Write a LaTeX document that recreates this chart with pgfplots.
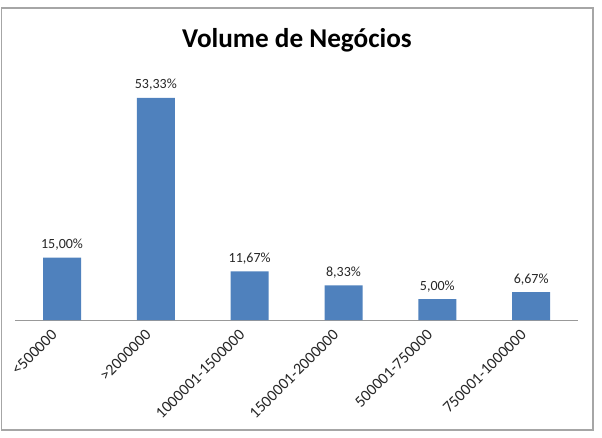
\documentclass[border=0pt]{standalone}
\usepackage{fontspec}
\setmainfont{Carlito}
\usepackage{pgfplots}
\pgfplotsset{compat=1.18}
\definecolor{barblue}{HTML}{4F81BD}
\begin{document}
\begin{tikzpicture}[x=0.75pt,y=0.75pt]
\begin{axis}[
  at={(46.5pt,87.75pt)}, anchor=origin,
  scale only axis, width=422.25pt, height=187.5pt,
  xmin=-0.5, xmax=5.5, ymin=0, ymax=60,
  axis x line=bottom, axis y line=none,
  x axis line style={-, gray!80},
  ytick=\empty,
  xtick=data,
  major tick length=0pt,
  xticklabels={<500000,>2000000,1000001-1500000,1500001-2000000,500001-750000,750001-1000000},
  x tick label style={xshift=-1.1pt, yshift=-4.5pt, rotate=45, anchor=east, font=\fontsize{12}{14}\selectfont, text=black!85, inner xsep=6.4pt, inner ysep=1pt},
  clip=false,
  nodes near coords={\pgfmathprintnumber[fixed,fixed zerofill,precision=2,use comma,assume math mode=true]{\pgfplotspointmeta}\%},
  every node near coord/.append style={font=\fontsize{10.5}{12}\selectfont, text=black!85, yshift=1.75pt},
]
\addplot[ybar, bar width=28.5pt, fill=barblue, draw=none] coordinates {
(0,15) (1,53.33) (2,11.67) (3,8.33) (4,5) (5,6.67)
};
\end{axis}
\draw[gray!70, line width=0.8pt] (1.5,7) rectangle (593,429);
\node[font=\bfseries\fontsize{20.4}{24}\selectfont, text=black] at (297,397) {Volume de Negócios};
\pgfresetboundingbox
\path[use as bounding box] (0,0) rectangle (602,437);
\end{tikzpicture}
\end{document}
